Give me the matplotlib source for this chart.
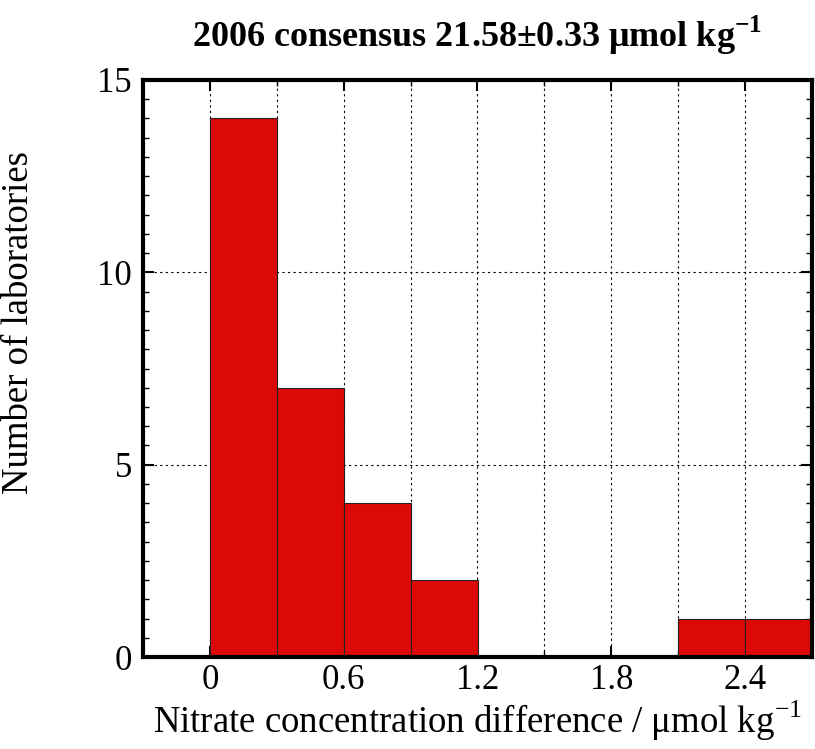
import numpy as np
import matplotlib.pyplot as plt
from matplotlib.ticker import MultipleLocator

plt.rcParams["font.family"] = ["Liberation Serif", "DejaVu Serif"]

# histogram bins (lower edges) and counts
bin_left = [0.0, 0.3, 0.6, 0.9, 2.1, 2.4]
counts = [14, 7, 4, 2, 1, 1]
bin_width = 0.3

fig = plt.figure(figsize=(8.15, 7.49), dpi=100)
ax = fig.add_axes([143 / 815, 1 - 657 / 749, (812 - 143) / 815, (657 - 80) / 749])

ax.bar(bin_left, counts, width=bin_width, align="edge",
       color="#dd0808", edgecolor="#222222", linewidth=0.8, zorder=3)

ax.set_xlim(-0.3, 2.7)
ax.set_ylim(0, 15)
ax.xaxis.set_minor_locator(MultipleLocator(0.3))
ax.yaxis.set_major_locator(MultipleLocator(5))
ax.yaxis.set_minor_locator(MultipleLocator(0.5))
ax.set_xticks([0, 0.6, 1.2, 1.8, 2.4])
ax.set_xticklabels(["0", "0.6", "1.2", "1.8", "2.4"])

ax.grid(True, which="major", axis="y", linestyle=(0, (2, 3)), color="black", linewidth=0.8)
ax.grid(True, which="both", axis="x", linestyle=(0, (2, 3)), color="black", linewidth=0.8)
ax.set_axisbelow(True)

ax.tick_params(which="both", direction="in", top=True, right=True, labelsize=25)
ax.tick_params(which="major", length=8, width=1.5, pad=8)
ax.tick_params(axis="x", which="major", pad=5)
ax.tick_params(which="minor", length=4, width=1)
for s in ax.spines.values():
    s.set_linewidth(3)
    s.set_zorder(5)

ax.set_xlabel("Nitrate concentration difference / \u03bcmol kg$^{\\mathregular{-1}}$",
              fontsize=26.5, labelpad=1)
ax.set_ylabel("Number of laboratories", fontsize=26.5)
ax.yaxis.set_label_coords(-0.16, 0.58)
ax.set_title("2006 consensus 21.58\u00b10.33 \u03bcmol kg$^{\\mathregular{-1}}$",
             fontsize=26, fontweight="bold", pad=24)

fig.savefig("out.png", dpi=100)
